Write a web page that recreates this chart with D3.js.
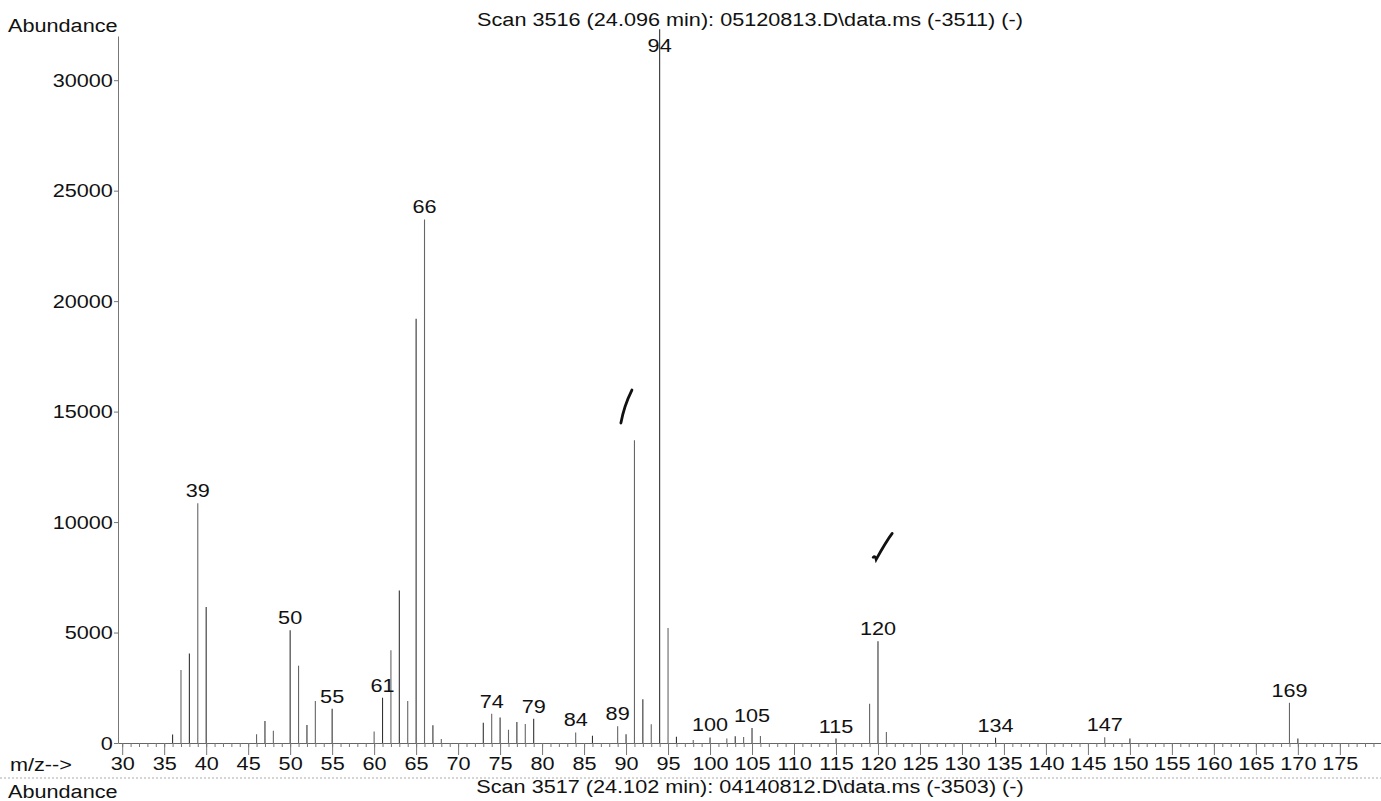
<!DOCTYPE html>
<html>
<head>
<meta charset="utf-8">
<script src="https://cdn.jsdelivr.net/npm/d3@7"></script>
<style>
body { margin: 0; background: #fff; }
svg { display: block; font-family: "Liberation Sans", Arial, sans-serif; }
</style>
</head>
<body>
<svg id="chart" width="1381" height="801"></svg>
<script>
// Spectrum data (m/z and abundance)
const mzValues = [36, 37, 38, 39, 40, 46, 47, 48, 50, 51, 52, 53, 55, 60, 61, 62, 63, 64, 65, 66, 67, 68,
    73, 74, 75, 76, 77, 78, 79, 84, 86, 89, 90, 91, 92, 93, 94, 95, 96, 98, 100, 102, 103, 104, 105, 106,
    115, 119, 120, 121, 134, 147, 150, 169, 170];
const abundanceValues = [380, 3300, 4050, 10850, 6150, 400, 1000, 550, 5100, 3500, 820, 1900, 1550, 520, 2050, 4200, 6900, 1900, 19200, 23700, 800, 180,
    920, 1320, 1150, 600, 950, 860, 1100, 480, 330, 760, 400, 13700, 1980, 850, 32300, 5200, 280, 140, 250, 200, 300, 270, 680, 320,
    200, 1780, 4600, 500, 240, 260, 200, 1820, 200];
const labelledPeaks = [39, 50, 55, 61, 66, 74, 79, 84, 89, 94, 100, 105, 115, 120, 134, 147, 169];

const xTickLabels = [30, 35, 40, 45, 50, 55, 60, 65, 70, 75, 80, 85, 90, 95, 100, 105, 110, 115, 120, 125,
    130, 135, 140, 145, 150, 155, 160, 165, 170, 175];
const yTickLabels = [0, 5000, 10000, 15000, 20000, 25000, 30000];

const topTitle = "Scan 3516 (24.096 min): 05120813.D\\data.ms (-3511) (-)";
const bottomTitle = "Scan 3517 (24.102 min): 04140812.D\\data.ms (-3503) (-)";

// handwritten tick marks on the print, placed in data space
const penMarks = [{ mz: 90.1, value: 15250, kind: "slash" }, { mz: 120.5, value: 8900, kind: "check" }];

const peaks = mzValues.map((m, i) => ({ mz: m, value: abundanceValues[i] }));

const svg = d3.select("#chart");
const stretch = 1.14;   // scan is a bit wider than normal Arial
const fontSize = 19;

const x = d3.scaleLinear().domain([29.5, 179.9]).range([118, 1381]);
const y = d3.scaleLinear().domain([0, 32000]).range([743, 36]);

function addText(px, py, str, anchor) {
    return svg.append("text")
        .attr("transform", `translate(${px},${py}) scale(${stretch},1)`)
        .attr("text-anchor", anchor)
        .attr("font-size", fontSize)
        .attr("fill", "#111")
        .text(str);
}

// titles and axis names
addText(750, 26, topTitle, "middle");
addText(750, 793, bottomTitle, "middle");
addText(8, 32, "Abundance", "start");
addText(8, 798, "Abundance", "start");
addText(10, 771, "m/z-->", "start");

// dotted separator under the x axis
svg.append("line")
    .attr("x1", 0).attr("x2", 1381)
    .attr("y1", 778).attr("y2", 778)
    .attr("stroke", "#aaa")
    .attr("stroke-width", 1)
    .attr("stroke-dasharray", "2,2");

// y axis
const yAxis = d3.axisLeft(y)
    .tickValues(yTickLabels)
    .tickFormat(d3.format("d"))
    .tickSize(4)
    .tickSizeOuter(0);

const gy = svg.append("g")
    .attr("transform", `translate(${x.range()[0]},0)`)
    .call(yAxis);
gy.select(".domain").attr("stroke", "#777");
gy.selectAll(".tick line").attr("stroke", "#777");
gy.selectAll(".tick text")
    .attr("font-family", "Liberation Sans, Arial, sans-serif")
    .attr("font-size", fontSize)
    .attr("fill", "#111")
    .attr("x", -4.5)
    .attr("transform", `scale(${stretch},1)`);

// x axis: minor ticks every unit
const minorAxis = d3.axisBottom(x)
    .tickValues(d3.range(30, 180))
    .tickFormat("")
    .tickSize(4)
    .tickSizeOuter(0);

const gxMinor = svg.append("g")
    .attr("transform", `translate(0,${y(0)})`)
    .call(minorAxis);
gxMinor.select(".domain").attr("stroke", "#666");
gxMinor.selectAll(".tick line").attr("stroke", "#777");

// x axis: labelled ticks every 5
const majorAxis = d3.axisBottom(x)
    .tickValues(xTickLabels)
    .tickFormat(d3.format("d"))
    .tickSize(12)
    .tickSizeOuter(0);

const gx = svg.append("g")
    .attr("transform", `translate(0,${y(0)})`)
    .call(majorAxis);
gx.select(".domain").remove();
gx.selectAll(".tick line").attr("stroke", "#777");
gx.selectAll(".tick text")
    .attr("font-family", "Liberation Sans, Arial, sans-serif")
    .attr("font-size", fontSize)
    .attr("fill", "#111")
    .attr("y", 27)
    .attr("dy", 0)
    .attr("transform", `scale(${stretch},1)`);

// spectrum sticks
svg.append("g")
    .selectAll("line")
    .data(peaks)
    .enter()
    .append("line")
    .attr("x1", d => x(d.mz))
    .attr("x2", d => x(d.mz))
    .attr("y1", y(0))
    .attr("y2", d => y(d.value))
    .attr("stroke", (d, i) => i % 2 ? "#666" : "#333")
    .attr("stroke-width", 1.1);

// peak labels
const labelData = peaks.filter(d => labelledPeaks.includes(d.mz));
labelData.forEach(d => {
    addText(x(d.mz), Math.max(y(d.value) - 6, 52), d.mz, "middle");
});

// pen marks
penMarks.forEach(m => {
    const px = x(m.mz), py = y(m.value);
    const path = m.kind === "slash"
        ? `M${px - 6},${py + 17} C${px - 4},${py + 6} ${px + 1},${py - 8} ${px + 5},${py - 16}`
        : `M${px - 9},${py + 11} Q${px - 7},${py + 9} ${px - 6},${py + 13} C${px - 1},${py + 4} ${px + 4},${py - 5} ${px + 10},${py - 13}`;
    svg.append("path")
        .attr("d", path)
        .attr("fill", "none")
        .attr("stroke", "#111")
        .attr("stroke-width", 2.8)
        .attr("stroke-linecap", "round");
});
</script>
</body>
</html>
